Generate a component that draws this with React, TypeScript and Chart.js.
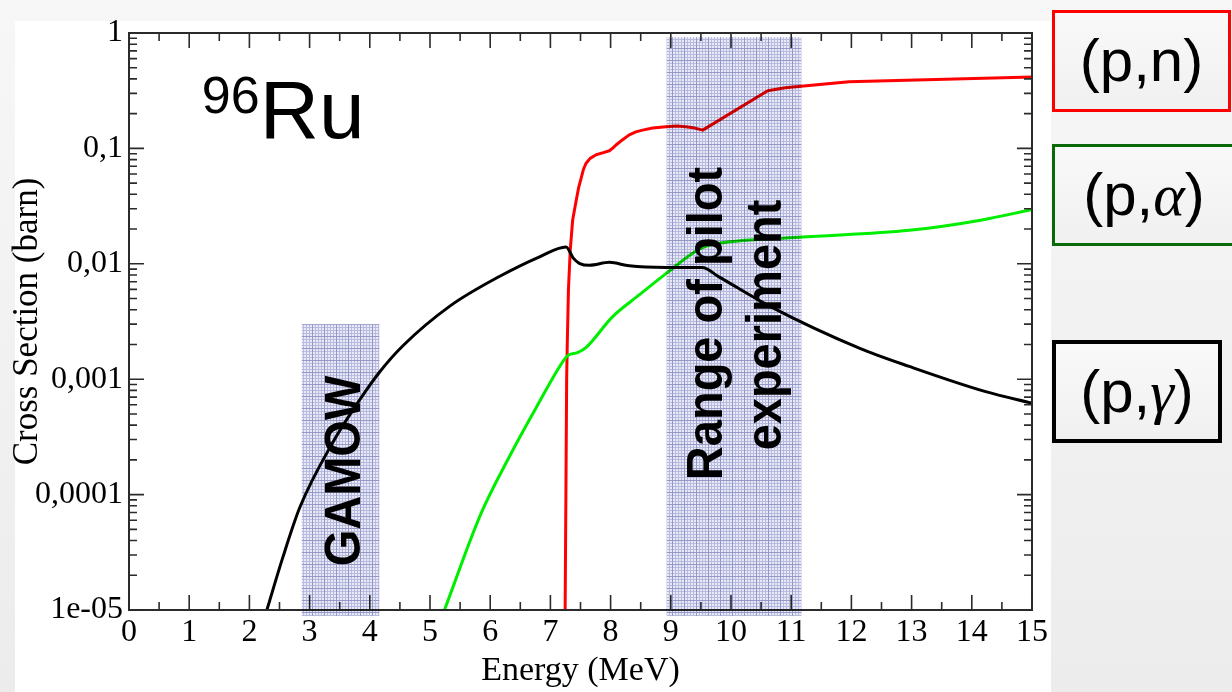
import React, { useEffect, useRef } from "react";
import { Chart, registerables } from "chart.js";

Chart.register(...registerables);

// ---------- data ----------
const energyPG = [2.29, 2.55, 2.84, 3.38, 3.83, 4.16, 4.55, 5.33, 6.16, 6.82, 7.26, 7.38, 7.48, 7.65, 7.98, 8.31, 8.93, 9.3, 9.52, 9.8, 10.64, 12.13, 12.96, 14.23, 15];
const sigmaPG = [1.0e-5, 2.8e-5, 7.8e-5, 2.8e-4, 6.6e-4, 1.15e-3, 1.95e-3, 4.3e-3, 7.8e-3, 0.0115, 0.014, 0.0112, 0.0101, 0.0097, 0.0103, 0.0096, 0.0093, 0.0093, 0.0093, 0.0077, 0.0043, 0.00186, 0.00129, 0.00078, 0.00062];

const energyPN = [7.245, 7.27, 7.28, 7.3, 7.33, 7.37, 7.43, 7.47, 7.51, 7.55, 7.59, 7.66, 7.76, 7.88, 7.98, 8.04, 8.09, 8.2, 8.31, 8.42, 8.53, 8.7, 8.92, 9.1, 9.25, 9.4, 9.53, 10.61, 10.9, 11.96, 15];
const sigmaPN = [1.0e-5, 1.0e-3, 2.0e-3, 6.0e-3, 0.0132, 0.024, 0.0357, 0.046, 0.055, 0.066, 0.074, 0.082, 0.088, 0.092, 0.0955, 0.101, 0.107, 0.119, 0.131, 0.139, 0.144, 0.15, 0.154, 0.156, 0.154, 0.15, 0.144, 0.316, 0.335, 0.378, 0.416];

const energyPA = [5.24, 5.85, 6.32, 6.77, 7.23, 7.3, 7.45, 7.6, 8.03, 8.48, 8.93, 9.42, 9.6, 9.81, 11.13, 12.96, 14.17, 15];
const sigmaPA = [1.0e-5, 6.9e-5, 2.14e-4, 5.75e-4, 1.48e-3, 1.62e-3, 1.7e-3, 1.9e-3, 3.47e-3, 5.4e-3, 8.3e-3, 0.0129, 0.0143, 0.0151, 0.017, 0.0195, 0.024, 0.0295];

const xTickValues = [0, 1, 2, 3, 4, 5, 6, 7, 8, 9, 10, 11, 12, 13, 14, 15];
const yTickValues = [1, 0.1, 0.01, 0.001, 0.0001, 0.00001];
const yTickLabels = ["1", "0,1", "0,01", "0,001", "0,0001", "1e-05"];

const gamowRange = [2.87, 4.16];
const gamowTop = 0.003;
const pilotRange = [8.93, 11.17];
const pilotTop = 0.92;

const legendLabels = ["(p,n)", "(p,α)", "(p,γ)"];
const seriesNames = ["(p,n)", "(p,α)", "(p,γ)"];

// annotation anchors in data coordinates
const rotatedNotes = [
  { text: "GAMOW", x: 3.83, y: 1.6e-4 },
  { text: "Range of pilot", x: 9.856, y: 3.04e-3 },
  { text: "experiment", x: 10.835, y: 2.95e-3 },
];
const nucleusMass = "96";
const nucleusSymbol = "Ru";
const nucleusAnchor = { x: 1.21, y: 0.203, y2: 0.123 };

const SERIF = '"Liberation Serif", "Times New Roman", serif';
const SANS = '"Liberation Sans", Arial, Helvetica, sans-serif';

function makePattern(ctx: CanvasRenderingContext2D) {
  const c = document.createElement("canvas");
  c.width = 12;
  c.height = 12;
  const p = c.getContext("2d")!;
  p.fillStyle = "rgb(232,233,246)";
  p.fillRect(0, 0, 12, 12);
  p.fillStyle = "rgb(185,187,222)";
  for (let i = 0; i < 12; i += 3) {
    p.fillRect(i, 0, 1, 12);
    p.fillRect(0, i, 12, 1);
  }
  p.fillStyle = "rgb(150,153,200)";
  p.fillRect(0, 0, 1, 12);
  p.fillRect(0, 0, 12, 1);
  return ctx.createPattern(c, "repeat");
}

const decorPlugin = {
  id: "decor",
  afterDatasetsDraw(chart: any) {
    const { ctx, chartArea: a, scales } = chart;
    const x = scales.x;
    const y = scales.y;
    ctx.save();
    // frame
    ctx.strokeStyle = "#2b2b2b";
    ctx.lineWidth = 2;
    ctx.strokeRect(a.left, a.top, a.right - a.left, a.bottom - a.top);
    // ticks
    ctx.lineWidth = 1.6;
    ctx.beginPath();
    for (let i = 0; i < xTickValues.length; i++) {
      const v = xTickValues[i];
      const px = x.getPixelForValue(v);
      ctx.moveTo(px, a.bottom);
      ctx.lineTo(px, a.bottom - 15);
      ctx.moveTo(px, a.top);
      ctx.lineTo(px, a.top + 15);
      if (i < xTickValues.length - 1) {
        const pm = x.getPixelForValue(v + 0.5);
        ctx.moveTo(pm, a.bottom);
        ctx.lineTo(pm, a.bottom - 8);
        ctx.moveTo(pm, a.top);
        ctx.lineTo(pm, a.top + 8);
      }
    }
    for (let i = 0; i < yTickValues.length; i++) {
      const v = yTickValues[i];
      const py = y.getPixelForValue(v);
      ctx.moveTo(a.left, py);
      ctx.lineTo(a.left + 15, py);
      ctx.moveTo(a.right, py);
      ctx.lineTo(a.right - 15, py);
      if (v < 1) {
        for (let k = 2; k <= 9; k++) {
          const pm = y.getPixelForValue(v * k);
          ctx.moveTo(a.left, pm);
          ctx.lineTo(a.left + 8, pm);
          ctx.moveTo(a.right, pm);
          ctx.lineTo(a.right - 8, pm);
        }
      }
    }
    ctx.stroke();

    // shaded ranges (multiplied over lines)
    const pat = makePattern(ctx);
    ctx.globalCompositeOperation = "multiply";
    ctx.fillStyle = pat;
    const boxes = [
      [gamowRange[0], gamowRange[1], gamowTop],
      [pilotRange[0], pilotRange[1], pilotTop],
    ];
    for (const [e0, e1, top] of boxes) {
      const l = x.getPixelForValue(e0);
      const r = x.getPixelForValue(e1);
      const t = y.getPixelForValue(top);
      const b = a.bottom + 6;
      ctx.fillRect(l, t, r - l, b - t);
    }
    ctx.globalCompositeOperation = "source-over";

    // rotated notes
    ctx.fillStyle = "#000";
    ctx.font = `bold 47px ${SANS}`;
    ctx.textAlign = "center";
    ctx.textBaseline = "alphabetic";
    for (const n of rotatedNotes) {
      ctx.save();
      ctx.translate(x.getPixelForValue(n.x), y.getPixelForValue(n.y));
      ctx.scale(1.07, 1);
      ctx.rotate(-Math.PI / 2);
      ctx.fillText(n.text, 0, 0);
      ctx.restore();
    }

    // nucleus label
    ctx.textAlign = "left";
    ctx.font = `52px ${SANS}`;
    const nx = x.getPixelForValue(nucleusAnchor.x);
    ctx.fillText(nucleusMass, nx, y.getPixelForValue(nucleusAnchor.y));
    const w = ctx.measureText(nucleusMass).width;
    ctx.font = `82px ${SANS}`;
    ctx.fillText(nucleusSymbol, nx + w, y.getPixelForValue(nucleusAnchor.y2));
    ctx.restore();
  },
};

function toPoints(xs: number[], ys: number[]) {
  return xs.map((v, i) => ({ x: v, y: ys[i] }));
}

function ChartCanvas() {
  const ref = useRef<HTMLCanvasElement>(null);
  useEffect(() => {
    const canvas = ref.current!;
    const common = {
      pointRadius: 0,
      borderWidth: 3,
      fill: false,
      borderCapStyle: "round" as const,
      borderJoinStyle: "round" as const,
    };
    const chart = new Chart(canvas, {
      type: "line",
      data: {
        datasets: [
          { label: seriesNames[2], data: toPoints(energyPG, sigmaPG), borderColor: "#000000", cubicInterpolationMode: "monotone", ...common },
          { label: seriesNames[1], data: toPoints(energyPA, sigmaPA), borderColor: "#00ee00", cubicInterpolationMode: "monotone", ...common },
          { label: seriesNames[0], data: toPoints(energyPN, sigmaPN), borderColor: "#ff0000", tension: 0, ...common },
        ],
      },
      options: {
        animation: false,
        responsive: false,
        devicePixelRatio: 1,
        layout: { padding: { left: 0, right: 18, top: 33, bottom: 0 } },
        plugins: { legend: { display: false }, tooltip: { enabled: false } },
        scales: {
          x: {
            type: "linear",
            min: 0,
            max: 15,
            grid: { display: false, drawTicks: false },
            border: { display: false },
            afterBuildTicks: (s: any) => {
              s.ticks = xTickValues.map((v) => ({ value: v }));
            },
            afterFit: (s: any) => {
              s.height = 82;
            },
            ticks: {
              autoSkip: false,
              maxRotation: 0,
              padding: 3,
              color: "#000",
              font: { family: SERIF, size: 32 },
              callback: (v: any) => String(v),
            },
            title: {
              display: true,
              text: "Energy (MeV)",
              color: "#000",
              font: { family: SERIF, size: 34 },
              padding: { top: 0, bottom: 1 },
            },
          },
          y: {
            type: "logarithmic",
            min: 1e-5,
            max: 1,
            grid: { display: false, drawTicks: false },
            border: { display: false },
            afterBuildTicks: (s: any) => {
              s.ticks = yTickValues.map((v) => ({ value: v }));
            },
            afterFit: (s: any) => {
              s.width = 129;
            },
            ticks: {
              autoSkip: false,
              padding: 6,
              color: "#000",
              font: { family: SERIF, size: 32 },
              callback: (v: any) => {
                const idx = yTickValues.findIndex((t) => Math.abs(Math.log10(t) - Math.log10(Number(v))) < 1e-6);
                return idx >= 0 ? yTickLabels[idx] : "";
              },
            },
            title: {
              display: true,
              text: "Cross Section (barn)",
              color: "#000",
              font: { family: SERIF, size: 35 },
              padding: { top: 7, bottom: 0 },
            },
          },
        },
      },
      plugins: [decorPlugin],
    } as any);
    return () => chart.destroy();
  }, []);
  return (
    <canvas
      ref={ref}
      width={1051}
      height={692}
      style={{ position: "absolute", left: 0, top: 0, width: 1051, height: 692 }}
    />
  );
}

function renderLabel(label: string) {
  return label.split("").map((ch, i) =>
    /[\u03b1-\u03c9]/.test(ch) ? (
      <span key={i} style={{ fontFamily: SERIF, fontStyle: "italic" }}>
        {ch}
      </span>
    ) : (
      <span key={i}>{ch}</span>
    )
  );
}

const legendStyles = [
  { left: 1052, top: 10, width: 179, height: 102, border: "3px solid #ff0000" },
  { left: 1052, top: 144, width: 184, height: 102, border: "3px solid #0a6a0a" },
  { left: 1052, top: 340, width: 170, height: 103, border: "4px solid #000000" },
];

export default function App() {
  useEffect(() => {
    document.body.style.margin = "0";
  }, []);
  return (
    <div
      style={{
        position: "fixed",
        left: 0,
        top: 0,
        width: 1232,
        height: 692,
        overflow: "hidden",
        background: "linear-gradient(to bottom, #f7f7f7, #ececec)",
      }}
    >
      <div style={{ position: "absolute", left: 15, top: 21, width: 1036, height: 671, background: "#ffffff" }} />
      <ChartCanvas />
      {legendLabels.map((lab, i) => (
        <div
          key={lab}
          style={{
            position: "absolute",
            boxSizing: "border-box",
            ...legendStyles[i],
            background: "linear-gradient(to bottom, #f9f9f9, #f0f0f0)",
            display: "flex",
            alignItems: "center",
            justifyContent: "center",
            fontFamily: SANS,
            fontSize: 60,
            color: "#000",
            lineHeight: 1,
          }}
        >
          <span>{renderLabel(lab)}</span>
        </div>
      ))}
    </div>
  );
}
